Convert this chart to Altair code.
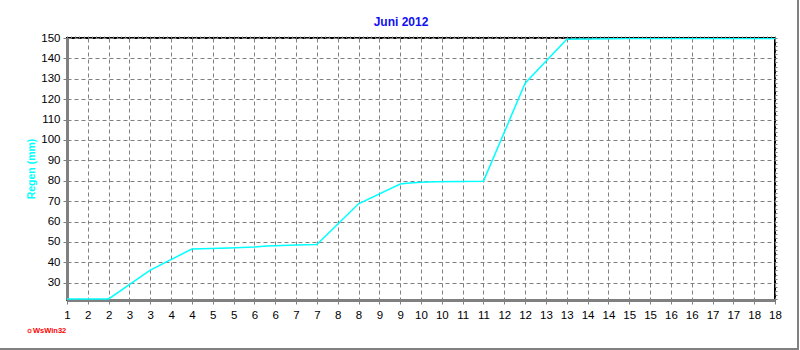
import altair as alt
import pandas as pd

# Rain accumulation (mm) by day, June 2012
days = [1.0, 2.0, 3.0, 4.0, 4.9, 5.5, 5.8, 6.5, 7.0, 8.0, 9.0, 9.15, 9.5, 9.85, 11.0, 12.0, 13.0, 14.5, 18.0]
rain = [22.0, 22.0, 36.2, 46.5, 47.0, 47.5, 48.0, 48.5, 48.7, 68.7, 78.4, 78.8, 79.2, 79.5, 79.8, 127.8, 149.4, 149.7, 149.7]

x_major = [1 + i * 0.5 for i in range(35)]
x_minor = [round(1 + i * 0.1, 2) for i in range(171)]
y_major = list(range(30, 151, 10))
y_minor = list(range(22, 151, 2))

df = pd.DataFrame({"day": days, "rain": rain})
one = alt.Data(values=[{}])

W, H = 708, 262
FONT = "Liberation Sans"

xscale = alt.Scale(domain=[1, 18], nice=False, zero=False)
yscale = alt.Scale(domain=[21.5, 150], nice=False, zero=False)

x_axis = alt.Axis(
    values=x_major,
    labelExpr="format(round(datum.value), 'd')",
    grid=True, gridColor="#808080", gridDash=[4, 3], gridWidth=1,
    tickSize=4, tickColor="#808080", tickWidth=1,
    domainColor="#808080", domainWidth=3,
    labelFont=FONT, labelFontSize=11.5, labelColor="#000000",
    labelPadding=5, labelFlush=False, labelOverlap=False,
    title=None,
)
y_axis = alt.Axis(
    values=y_major,
    grid=True, gridColor="#808080", gridDash=[4, 3], gridWidth=1,
    tickSize=4, tickColor="#808080", tickWidth=1,
    domainColor="#808080", domainWidth=3,
    labelFont=FONT, labelFontSize=11.5, labelColor="#000000",
    labelPadding=3, labelFlush=False, labelOverlap=False,
    title=None,
)
x_axis_minor = alt.Axis(
    values=x_minor, labels=False, grid=False, domain=False,
    tickSize=2, tickColor="#808080", tickWidth=1, title=None,
)
y_axis_minor = alt.Axis(
    values=y_minor, labels=False, grid=False, domain=False,
    tickSize=2, tickColor="#808080", tickWidth=1, title=None,
)

line = alt.Chart(df).mark_line(color="#00ffff", strokeWidth=1.5, clip=True).encode(
    x=alt.X("day:Q", scale=xscale, axis=x_axis),
    y=alt.Y("rain:Q", scale=yscale, axis=y_axis),
)

minor = alt.Chart(df).mark_line(opacity=0).encode(
    x=alt.X("day:Q", scale=xscale, axis=x_axis_minor),
    y=alt.Y("rain:Q", scale=yscale, axis=y_axis_minor),
)

title = alt.Chart(one).mark_text(
    text="Juni 2012", font=FONT, fontSize=12, fontWeight="bold", color="#1010f0",
    align="center", baseline="middle",
).encode(x=alt.value(334), y=alt.value(-16))

ytitle = alt.Chart(one).mark_text(
    text="Regen  (mm)", font=FONT, fontSize=10.5, fontWeight="bold", color="#00ffff",
    align="center", baseline="middle", angle=270,
).encode(x=alt.value(-35), y=alt.value(131))

mark_dot = alt.Chart(one).mark_point(
    shape="circle", size=10, color="#ff0000", filled=False, strokeWidth=1.2
).encode(x=alt.value(-37.5), y=alt.value(293))

mark_txt = alt.Chart(one).mark_text(
    text="WsWin32", font=FONT, fontSize=7.5, fontWeight="bold", color="#ff0000",
    align="left", baseline="middle",
).encode(x=alt.value(-34), y=alt.value(293))

frame_r = alt.Chart(one).mark_rule(color="#808080", strokeWidth=2).encode(
    x=alt.value(731), y=alt.value(-38), y2=alt.value(312)
)
frame_b = alt.Chart(one).mark_rule(color="#808080", strokeWidth=2).encode(
    x=alt.value(-67), x2=alt.value(732), y=alt.value(311)
)

chart = alt.layer(line, minor, title, ytitle, mark_dot, mark_txt, frame_r, frame_b).resolve_axis(
    x="independent", y="independent"
).properties(
    width=W, height=H,
    autosize=alt.AutoSizeParams(type="none"),
    padding={"left": 67, "top": 38, "right": 25, "bottom": 50},
    background="#ffffff",
).configure_view(stroke="#000000", strokeWidth=2)

chart.save("out.html", embed_options={"renderer": "svg", "actions": False})
